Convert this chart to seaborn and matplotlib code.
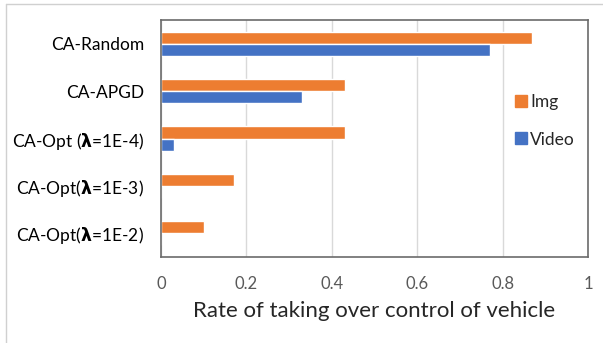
import matplotlib
matplotlib.use("Agg")
import matplotlib.pyplot as plt
from matplotlib.lines import Line2D
import seaborn as sns
import pandas as pd

methods = ["CA-Random", "CA-APGD",
           "CA-Opt ($\\boldsymbol{\\lambda}$=1E-4)",
           "CA-Opt($\\boldsymbol{\\lambda}$=1E-3)",
           "CA-Opt($\\boldsymbol{\\lambda}$=1E-2)"]
img_rate = [0.87, 0.43, 0.43, 0.17, 0.10]
video_rate = [0.77, 0.33, 0.03, 0.0, 0.0]
series = ["Img", "Video"]
xticks = [0, 0.2, 0.4, 0.6, 0.8, 1]
xtick_labels = ["0", "0.2", "0.4", "0.6", "0.8", "1"]

df = pd.DataFrame({
    "method": methods * 2,
    "rate": img_rate + video_rate,
    "series": [series[0]] * len(methods) + [series[1]] * len(methods),
})

sns.set_style("white")
plt.rcParams["font.family"] = ["Lato", "DejaVu Sans"]
plt.rcParams["mathtext.fontset"] = "dejavusans"

fig = plt.figure(figsize=(6.03, 3.43), dpi=100)
ax = fig.add_axes([161 / 603, 1 - 257 / 343, 427 / 603, 237 / 343])

palette = {"Img": "#ED7D31", "Video": "#4472C4"}
sns.barplot(data=df, y="method", x="rate", hue="series", hue_order=series,
            order=methods, palette=palette, orient="h", width=0.51,
            saturation=1, ax=ax, legend=False)

ax.set_xlim(0, 1)
ax.set_ylim(4.5, -0.5)
ax.set_xticks(xticks)
ax.set_xticklabels(xtick_labels)
ax.xaxis.grid(True, color="#d9d9d9", linewidth=1)
ax.set_axisbelow(True)
ax.tick_params(axis="x", length=0, pad=14, labelsize=12, labelcolor="#595959")
ax.tick_params(axis="y", length=0, pad=12, labelsize=12.5, labelcolor="black")
ax.set_ylabel("")
ax.set_xlabel("Rate of taking over control of vehicle", fontsize=16, labelpad=6)

for side in ["top", "bottom", "left", "right"]:
    ax.spines[side].set_visible(True)
    ax.spines[side].set_color("#6b6b6b")
    ax.spines[side].set_linewidth(1.2)

handles = [Line2D([0], [0], marker="s", linestyle="", markersize=8.5,
                  markerfacecolor=palette[s], markeredgecolor=palette[s]) for s in series]
ax.legend(handles, series, loc="center left", bbox_to_anchor=(0.79, 0.575),
          frameon=False, fontsize=12.5, handletextpad=0.15, labelspacing=1.25,
          handlelength=0.8)

# outer chart border (top and left edges)
fig.add_artist(Line2D([6 / 603, 1], [1 - 4 / 343, 1 - 4 / 343], color="#d0d0d0", linewidth=1))
fig.add_artist(Line2D([6 / 603, 6 / 603], [0, 1 - 4 / 343], color="#d0d0d0", linewidth=1))

fig.savefig("out.png", dpi=100)
